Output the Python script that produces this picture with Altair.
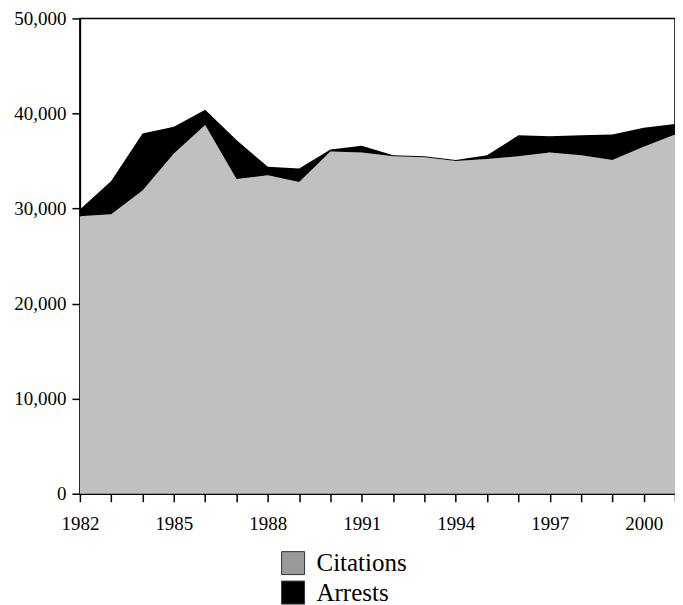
import altair as alt
import pandas as pd

years = list(range(1982, 2002))
citations = [29200, 29400, 31900, 35800, 38800, 33100, 33500, 32800, 36000, 35900,
             35500, 35400, 35000, 35200, 35500, 35900, 35600, 35100, 36500, 37800]
arrests = [700, 3500, 6000, 2800, 1600, 4100, 900, 1400, 200, 700,
           100, 100, 100, 400, 2200, 1700, 2100, 2700, 2000, 1100]
series = ["Citations", "Arrests"]
area_colors = ["#c0c0c0", "#000000"]
legend_colors = ["#999999", "#000000"]
y_ticks = [0, 10000, 20000, 30000, 40000, 50000]

rows = []
for i, y in enumerate(years):
    rows.append({"year": y, "series": "Citations", "value": citations[i], "ord": 0})
    rows.append({"year": y, "series": "Arrests", "value": arrests[i], "ord": 1})
df = pd.DataFrame(rows)

font = "Liberation Serif"


def x_enc():
    return alt.X("year:Q",
                 scale=alt.Scale(domain=[1982, 2001], nice=False, zero=False),
                 axis=alt.Axis(values=years, title=None, grid=False, format="d",
                               labelExpr="(datum.value - 1982) % 3 == 0 ? datum.label : ''",
                               labelOverlap=False,
                               labelFont=font, labelFontSize=19, labelColor="black",
                               labelPadding=13, tickSize=8, tickColor="black", tickWidth=1.5,
                               domainColor="black", domainWidth=1.5, labelFlush=False))


def y_enc():
    return alt.Y("value:Q", stack="zero",
                 scale=alt.Scale(domain=[0, 50000], nice=False),
                 axis=alt.Axis(values=y_ticks, title=None, grid=False, format=",d",
                               labelFont=font, labelFontSize=19, labelColor="black",
                               labelPadding=6, tickSize=8, tickColor="black", tickWidth=1.5,
                               domainColor="black", domainWidth=1.5))


base = alt.Chart(df)

areas = base.mark_area(interpolate="linear").encode(
    x=x_enc(),
    y=y_enc(),
    color=alt.Color("series:N", scale=alt.Scale(domain=series, range=area_colors), legend=None),
    order=alt.Order("ord:Q", sort="ascending"),
)

legend_layer = base.mark_square(size=0).encode(
    x=x_enc(),
    y=y_enc(),
    fill=alt.Fill("series:N",
                  scale=alt.Scale(domain=series, range=legend_colors),
                  legend=alt.Legend(title=None, orient="none", legendX=201, legendY=533,
                                    symbolType="square", symbolSize=529,
                                    symbolStrokeColor="#333333", symbolStrokeWidth=1,
                                    symbolOpacity=1,
                                    labelFont=font, labelFontSize=25, labelColor="black",
                                    labelOffset=11, rowPadding=2.5, padding=0)),
    order=alt.Order("ord:Q", sort="ascending"),
)

chart = alt.layer(areas, legend_layer).resolve_scale(
    color="independent", fill="independent"
).resolve_legend(
    color="independent", fill="independent"
).properties(
    width=596, height=476,
    autosize=alt.AutoSizeParams(type="none"),
    padding={"left": 72, "top": 10, "right": 0, "bottom": 112},
    background="white",
).configure_view(
    stroke="black", strokeWidth=1.5
)

chart.save("out.html", embed_options={"renderer": "svg", "actions": False})
